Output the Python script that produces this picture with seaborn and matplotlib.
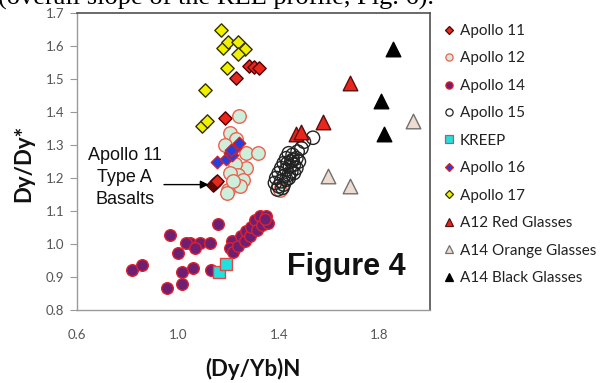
import matplotlib
matplotlib.use("Agg")
import matplotlib.pyplot as plt
from matplotlib.lines import Line2D
import seaborn as sns

# --- data: (Dy/Yb)N vs Dy/Dy* for lunar samples ---
a11_x = [1.282, 1.301, 1.322, 1.230, 1.186, 1.138, 1.142, 1.146, 1.150, 1.154]
a11_y = [1.538, 1.535, 1.533, 1.502, 1.381, 1.178, 1.181, 1.184, 1.187, 1.190]

a12_x = [1.243, 1.206, 1.232, 1.272, 1.318, 1.272, 1.226, 1.239, 1.259, 1.199,
         1.193, 1.246, 1.206, 1.219, 1.186, 1.404]
a12_y = [1.387, 1.337, 1.317, 1.276, 1.276, 1.231, 1.241, 1.210, 1.195, 1.165,
         1.155, 1.175, 1.215, 1.190, 1.300, 1.165]

a14_x = [0.817, 0.856, 0.955, 1.018, 1.015, 1.061, 1.133, 0.968, 1.001, 1.048,
         1.034, 1.087, 1.127, 1.067, 1.160, 1.213, 1.206, 1.219, 1.239, 1.252,
         1.265, 1.272, 1.285, 1.292, 1.305, 1.312, 1.325, 1.332, 1.351, 1.358,
         1.345]
a14_y = [0.922, 0.937, 0.866, 0.879, 0.916, 0.927, 0.922, 1.028, 0.974, 1.003,
         1.003, 1.003, 1.003, 0.988, 1.062, 1.008, 0.988, 0.977, 0.993, 1.023,
         1.008, 1.038, 1.023, 1.053, 1.074, 1.043, 1.084, 1.058, 1.084, 1.064,
         1.075]

a15_x = [1.536, 1.500, 1.490, 1.475, 1.470, 1.455, 1.440, 1.450, 1.430, 1.420,
         1.445, 1.460, 1.410, 1.430, 1.450, 1.470, 1.400, 1.420, 1.440, 1.460,
         1.390, 1.410, 1.430, 1.385, 1.400, 1.420, 1.440, 1.480, 1.395, 1.415,
         1.455, 1.435]
a15_y = [1.322, 1.310, 1.290, 1.280, 1.260, 1.270, 1.275, 1.250, 1.260, 1.245,
         1.235, 1.240, 1.230, 1.225, 1.220, 1.230, 1.215, 1.205, 1.210, 1.215,
         1.200, 1.190, 1.195, 1.185, 1.175, 1.180, 1.200, 1.250, 1.165, 1.170,
         1.255, 1.245]

kreep_x = [1.165, 1.190]
kreep_y = [0.915, 0.940]

a16_x = [1.155, 1.190, 1.205, 1.215, 1.225, 1.243, 1.210]
a16_y = [1.248, 1.258, 1.275, 1.270, 1.290, 1.305, 1.285]

a17_x = [1.173, 1.179, 1.199, 1.239, 1.265, 1.239, 1.193, 1.107, 1.094, 1.114]
a17_y = [1.649, 1.595, 1.611, 1.613, 1.592, 1.575, 1.533, 1.467, 1.357, 1.372]

red_gl_x = [1.470, 1.490, 1.575, 1.681]
red_gl_y = [1.332, 1.340, 1.370, 1.487]

orange_gl_x = [1.932, 1.595, 1.681]
orange_gl_y = [1.372, 1.205, 1.175]

black_gl_x = [1.852, 1.807, 1.818]
black_gl_y = [1.590, 1.433, 1.333]

x_ticks = [0.6, 1.0, 1.4, 1.8]
y_ticks = [0.8, 0.9, 1.0, 1.1, 1.2, 1.3, 1.4, 1.5, 1.6, 1.7]

sns.set_theme(style="white")
plt.rcParams["font.family"] = ["Lato", "DejaVu Sans"]

W, H = 603, 383
fig = plt.figure(figsize=(W / 100, H / 100), dpi=100)
ax = fig.add_axes([77 / W, 1 - 310 / H, (430 - 77) / W, (310 - 13) / H])

# series: (name, x, y, marker, size, face, edge)
series = [
    ("Apollo 11", a11_x, a11_y, "D", 46, "#e8261c", "#4a0505"),
    ("Apollo 12", a12_x, a12_y, "o", 95, "#cdeedb", "#f0604f"),
    ("Apollo 14", a14_x, a14_y, "o", 70, "#6e1f72", "#e0202a"),
    ("Apollo 15", a15_x, a15_y, "o", 92, "none", "#222222"),
    ("KREEP", kreep_x, kreep_y, "s", 80, "#20e0e0", "#e04848"),
    ("Apollo 16", a16_x, a16_y, "D", 40, "#1f42e6", "#d82020"),
    ("Apollo 17", a17_x, a17_y, "D", 46, "#f0f000", "#333300"),
    ("A12 Red Glasses", red_gl_x, red_gl_y, "^", 110, "#e8261c", "#5a1010"),
    ("A14 Orange Glasses", orange_gl_x, orange_gl_y, "^", 110, "#ecdcd2", "#707070"),
    ("A14 Black Glasses", black_gl_x, black_gl_y, "^", 110, "#000000", "#000000"),
]

handles = []
for i, (name, xs, ys, mk, sz, fc, ec) in enumerate(series):
    sns.scatterplot(x=xs, y=ys, marker=mk, s=sz, color=fc if fc != "none" else "white",
                    facecolor=fc, edgecolor=ec, linewidth=1.0, ax=ax, zorder=3 + i,
                    legend=False)
    handles.append(Line2D([], [], linestyle="none", marker=mk,
                          markersize=5.2 if mk != "D" else 4.4,
                          markerfacecolor=fc if fc != "none" else "white",
                          markeredgecolor=ec, markeredgewidth=0.9, label=name))

ax.set_xlim(0.6, 2.0)
ax.set_ylim(0.8, 1.7)
ax.set_xticks(x_ticks)
ax.set_xticklabels([f"{v:.1f}" for v in x_ticks])
ax.set_yticks(y_ticks)
ax.set_yticklabels([f"{v:.1f}" for v in y_ticks])
ax.tick_params(axis="y", length=5, width=0.8, color="#999999", pad=4,
               labelsize=9.5, labelcolor="#555555", left=True)
ax.tick_params(axis="x", length=0, pad=14, labelsize=9.5, labelcolor="#555555")

for side in ("left", "bottom"):
    ax.spines[side].set_color("#9a9a9a")
    ax.spines[side].set_linewidth(1.0)
for side in ("top", "right"):
    ax.spines[side].set_color("#505050")
    ax.spines[side].set_linewidth(1.2)

ax.set_ylabel("Dy/Dy*", fontsize=16, fontweight="bold", color="#111111")
ax.yaxis.set_label_coords((34 - 77) / 353, (310 - 163) / 297)
ax.set_xlabel("(Dy/Yb)N", fontsize=16, fontweight="bold", color="#111111")
ax.xaxis.set_label_coords((253 - 77) / 353, (310 - 358) / 297)

ax.text((346 - 77) / 353, (310 - 267) / 297, "Figure 4", transform=ax.transAxes,
        ha="center", va="center", fontsize=22, fontweight="bold",
        family="Liberation Sans", color="#111111")

ax.text(0.79, 1.201, "Apollo 11\nType A\nBasalts", ha="center", va="center",
        fontsize=13, family="Liberation Sans", linespacing=1.4, color="#111111")
ax.annotate("", xy=(1.122, 1.180), xytext=(0.945, 1.180),
            arrowprops=dict(arrowstyle="-|>", color="black", lw=1.0,
                            mutation_scale=12, shrinkA=0, shrinkB=0))

fig.legend(handles=handles, loc="upper left",
           bbox_to_anchor=(443 / W, 1 - 24 / H), bbox_transform=fig.transFigure,
           frameon=False, fontsize=11, labelspacing=0.88, handlelength=0.8,
           handletextpad=0.3, borderpad=0, borderaxespad=0, labelcolor="#222222")

fig.text(-0.004, 1 - 5 / H, "(overall slope of the REE profile, Fig. 6).",
         family="Liberation Serif", fontsize=19, va="baseline", ha="left",
         color="black")

fig.savefig("out.png", dpi=100, facecolor="white")
